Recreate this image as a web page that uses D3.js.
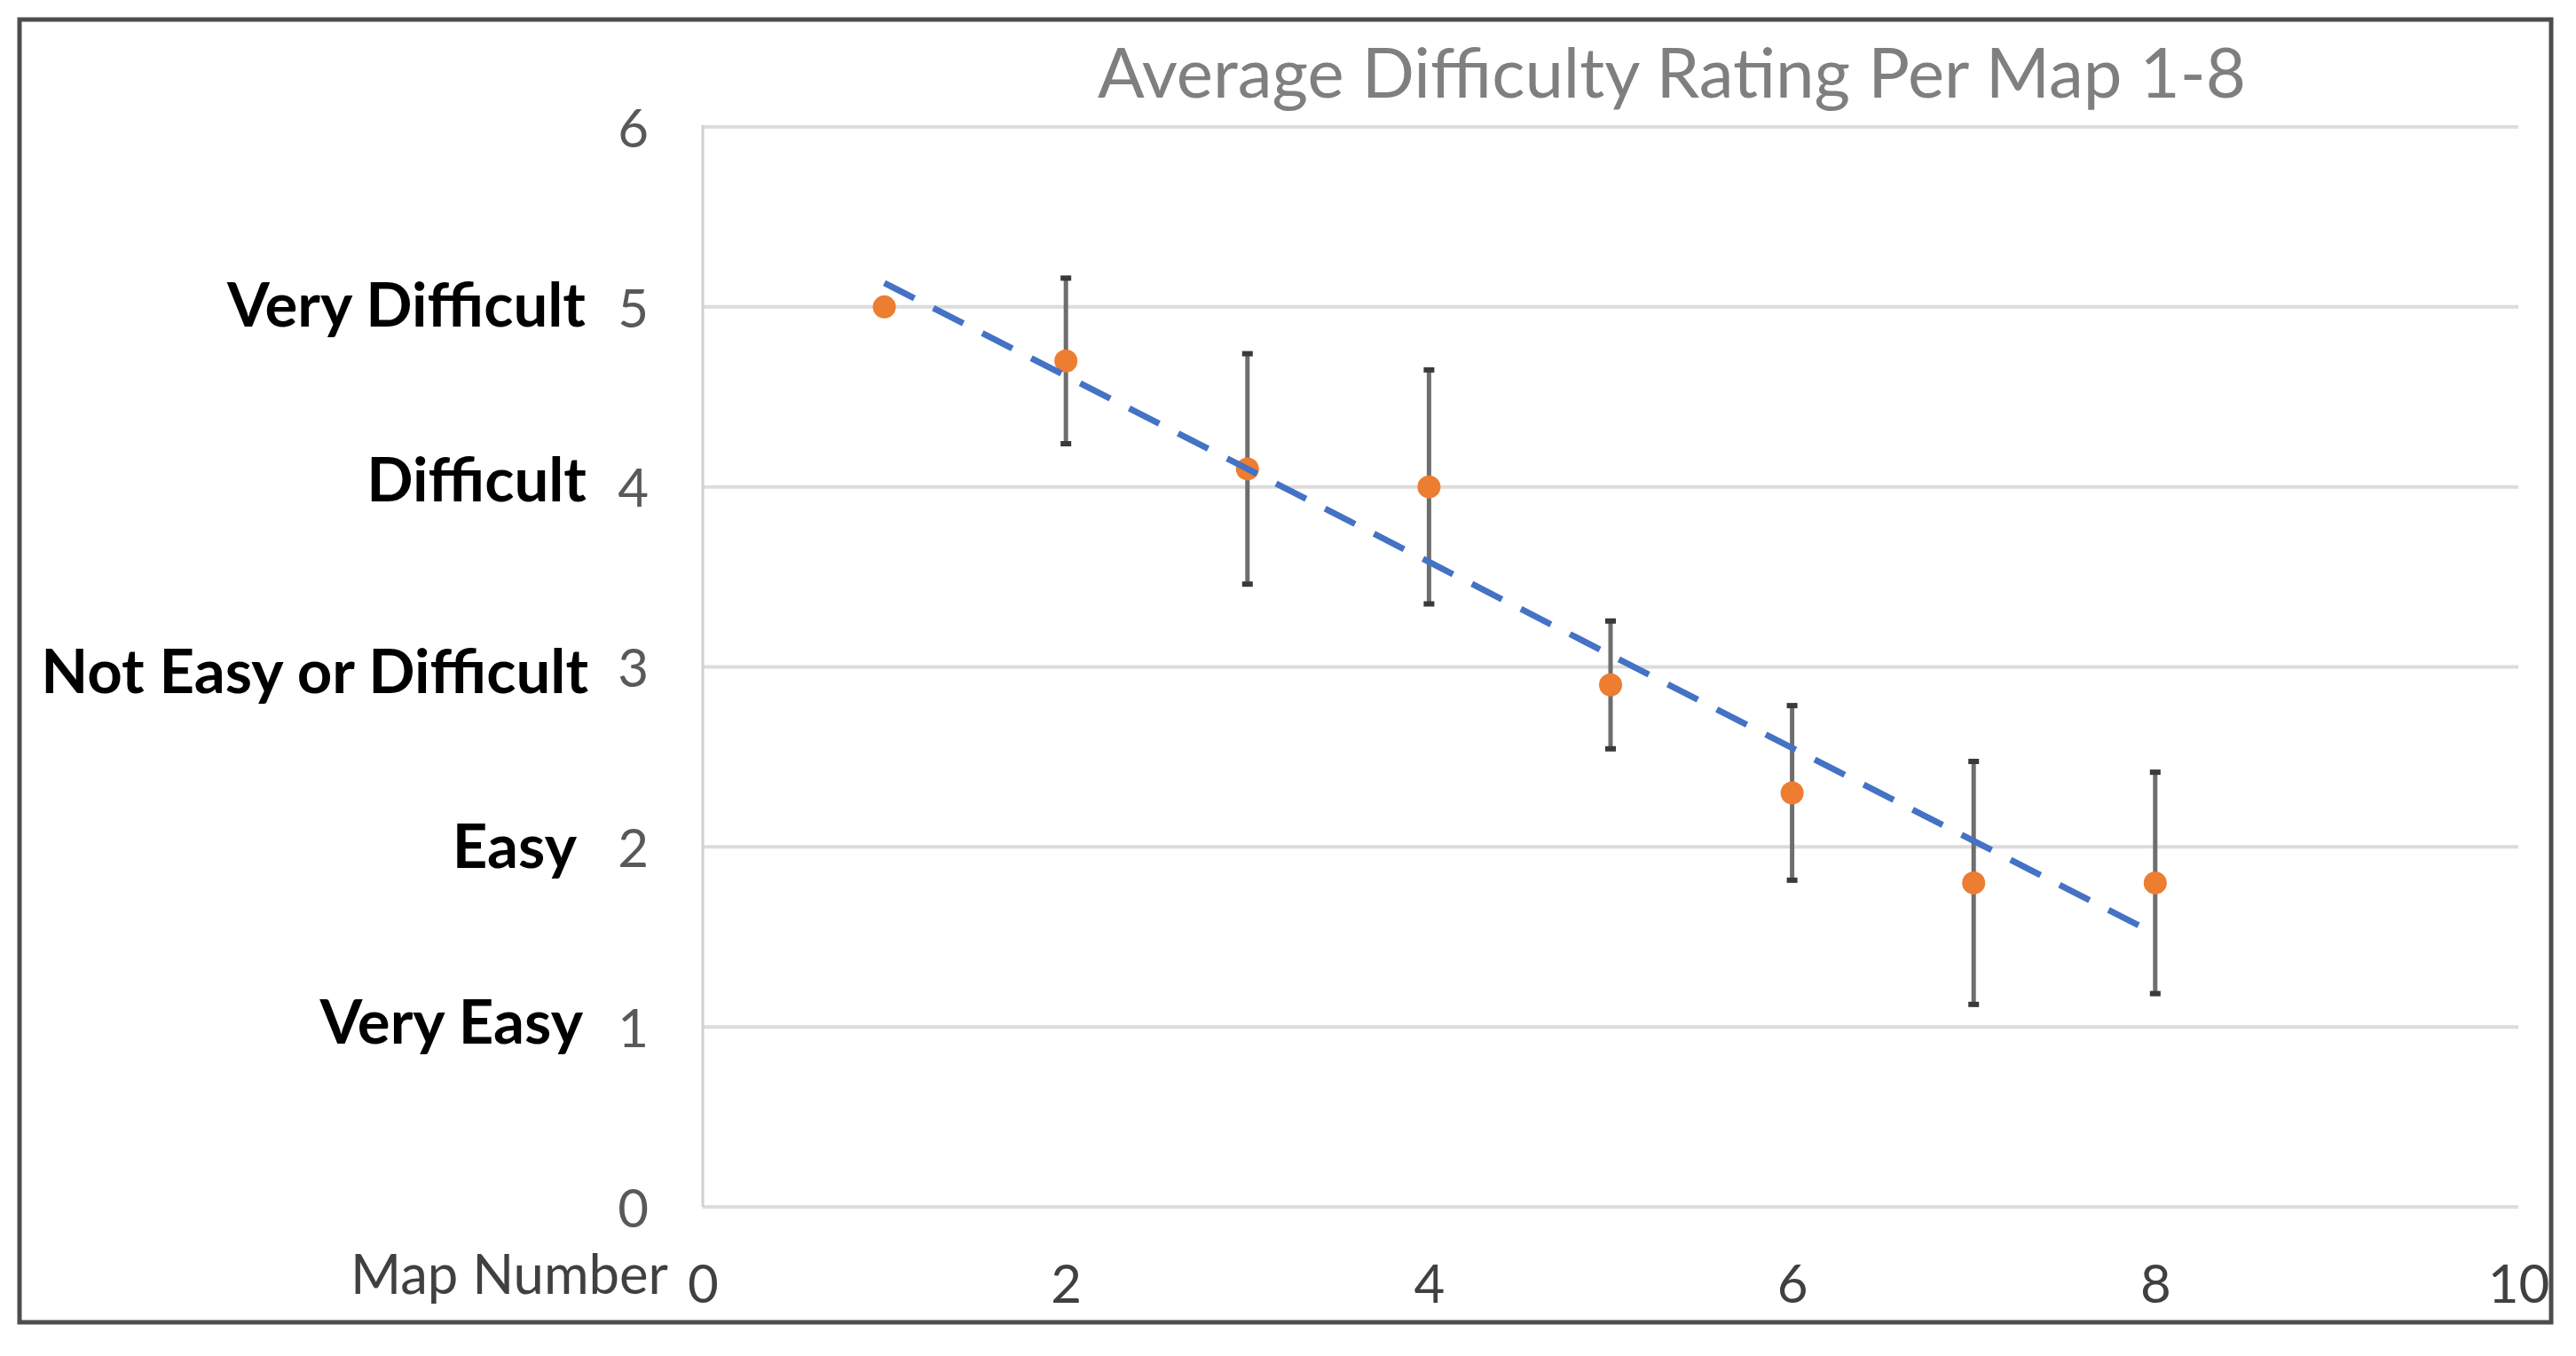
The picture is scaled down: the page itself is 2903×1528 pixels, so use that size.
<!DOCTYPE html>
<html>
<head>
<meta charset="utf-8">
<script src="https://cdn.jsdelivr.net/npm/d3@7/dist/d3.min.js"></script>
<style>
  html, body { margin: 0; padding: 0; background: #ffffff; }
  svg { display: block; }
</style>
</head>
<body>
<svg id="chart" width="2903" height="1528"></svg>
<script>
// ---------------- DATA ----------------
const chartTitle = "Average Difficulty Rating Per Map 1-8";
const xAxisLabel = "Map Number";
const mapNumbers = [1, 2, 3, 4, 5, 6, 7, 8];
const meanRatings = [5.0, 4.7, 4.1, 4.0, 2.9, 2.3, 1.8, 1.8];
const errorMargins = [0, 0.46, 0.64, 0.65, 0.355, 0.485, 0.675, 0.615];
const xTickValues = [0, 2, 4, 6, 8, 10];
const yTickValues = [0, 1, 2, 3, 4, 5, 6];
const ratingLevels = [5, 4, 3, 2, 1];
const ratingNames = ["Very Difficult", "Difficult", "Not Easy or Difficult", "Easy", "Very Easy"];

// ---------------- LAYOUT ----------------
const W = 2903, H = 1528;
const plot = { left: 792, right: 2838, top: 143, bottom: 1360 };
const labelNudge = [ {dx: 0, dy: 22}, {dx: 1, dy: 16}, {dx: 3, dy: 29}, {dx: -10, dy: 24}, {dx: -3, dy: 19} ];

function draw() {
  const svg = d3.select("#chart");
  svg.append("rect").attr("x", 0).attr("y", 0).attr("width", W).attr("height", H).attr("fill", "#ffffff");

  const x = d3.scaleLinear().domain([0, 10]).range([plot.left, plot.right]);
  const y = d3.scaleLinear().domain([0, 6]).range([plot.bottom, plot.top]);

  // outer frame
  svg.append("rect")
    .attr("x", 22).attr("y", 22).attr("width", 2853).attr("height", 1468)
    .attr("fill", "none").attr("stroke", "#4d4d4d").attr("stroke-width", 5);

  // gridlines
  svg.append("g").selectAll("line").data(yTickValues).join("line")
    .attr("x1", plot.left).attr("x2", plot.right)
    .attr("y1", d => y(d)).attr("y2", d => y(d))
    .attr("stroke", "#dcdcdc").attr("stroke-width", 4);

  // left axis line
  svg.append("line")
    .attr("x1", plot.left).attr("x2", plot.left)
    .attr("y1", y(6) - 2).attr("y2", y(0))
    .attr("stroke", "#d0d0d0").attr("stroke-width", 3);

  // Y axis numbers
  const yAxis = d3.axisLeft(y).tickValues(yTickValues).tickSize(0).tickPadding(plot.left - 731).tickFormat(d3.format("d"));
  const gy = svg.append("g").attr("transform", `translate(${plot.left},0)`).call(yAxis);
  gy.select(".domain").remove();
  gy.selectAll("text")
    .attr("font-family", "Lato, 'Open Sans', sans-serif")
    .attr("font-size", 60).attr("fill", "#595959").attr("dy", "0.37em");

  // X axis numbers
  const xAxis = d3.axisBottom(x).tickValues(xTickValues).tickSize(0).tickPadding(65).tickFormat(d3.format("d"));
  const gx = svg.append("g").attr("transform", `translate(0,${plot.bottom})`).call(xAxis);
  gx.select(".domain").remove();
  gx.selectAll("text")
    .attr("font-family", "Lato, 'Open Sans', sans-serif")
    .attr("font-size", 60).attr("fill", "#404040");

  // Category labels
  const cats = svg.append("g").selectAll("text").data(ratingLevels).join("text")
    .attr("x", (d, i) => 660 + labelNudge[i].dx)
    .attr("y", (d, i) => y(d) + labelNudge[i].dy)
    .attr("text-anchor", "end")
    .attr("font-family", "Lato, 'Open Sans', sans-serif")
    .attr("font-weight", 700)
    .attr("font-size", 70)
    .attr("fill", "#000000")
    .text((d, i) => ratingNames[i]);
  const longest = cats.filter((d, i) => i === 2).node();
  const wl = longest.getComputedTextLength();
  cats.attr("font-size", 70 * 617 / wl);

  // X axis title
  const xt = svg.append("text")
    .attr("x", 753).attr("y", 1458)
    .attr("text-anchor", "end")
    .attr("font-family", "Lato, 'Open Sans', sans-serif")
    .attr("font-size", 62).attr("fill", "#404040")
    .text(xAxisLabel);
  xt.attr("font-size", 62 * 358 / xt.node().getComputedTextLength());

  // Chart title
  const tt = svg.append("text")
    .attr("x", 1237).attr("y", 110)
    .attr("text-anchor", "start")
    .attr("font-family", "Lato, 'Open Sans', sans-serif")
    .attr("font-size", 80).attr("fill", "#7f7f7f")
    .text(chartTitle);
  tt.attr("font-size", 80 * 1294 / tt.node().getComputedTextLength());

  const pts = mapNumbers.map((m, i) => ({ m, v: meanRatings[i], e: errorMargins[i] }));

  // error bars
  const eb = svg.append("g");
  eb.selectAll("line.bar").data(pts.filter(p => p.e > 0)).join("line")
    .attr("class", "bar")
    .attr("x1", d => x(d.m)).attr("x2", d => x(d.m))
    .attr("y1", d => y(d.v + d.e)).attr("y2", d => y(d.v - d.e))
    .attr("stroke", "#6e6e6e").attr("stroke-width", 5);
  const caps = pts.filter(p => p.e > 0).flatMap(p => [{ m: p.m, v: p.v + p.e }, { m: p.m, v: p.v - p.e }]);
  eb.selectAll("line.cap").data(caps).join("line")
    .attr("class", "cap")
    .attr("x1", d => x(d.m) - 6).attr("x2", d => x(d.m) + 6)
    .attr("y1", d => y(d.v)).attr("y2", d => y(d.v))
    .attr("stroke", "#3a3a3a").attr("stroke-width", 6);

  // points
  svg.append("g").selectAll("circle").data(pts).join("circle")
    .attr("cx", d => x(d.m)).attr("cy", d => y(d.v)).attr("r", 13)
    .attr("fill", "#ED7D31");

  // linear trendline (least squares from data)
  const mx = d3.mean(mapNumbers), my = d3.mean(meanRatings);
  const sxy = d3.sum(mapNumbers, (m, i) => (m - mx) * (meanRatings[i] - my));
  const sxx = d3.sum(mapNumbers, m => (m - mx) * (m - mx));
  const slope = sxy / sxx, icpt = my - slope * mx;
  const ends = [d3.min(mapNumbers), d3.max(mapNumbers)].map(m => [m, icpt + slope * m]);
  svg.append("path")
    .datum(ends)
    .attr("d", d3.line().x(d => x(d[0])).y(d => y(d[1])))
    .attr("fill", "none").attr("stroke", "#4472C4").attr("stroke-width", 7)
    .attr("stroke-dasharray", "38 24").attr("stroke-linecap", "butt");
}

if (document.fonts && document.fonts.ready) {
  document.fonts.ready.then(draw);
} else {
  draw();
}
</script>
</body>
</html>
